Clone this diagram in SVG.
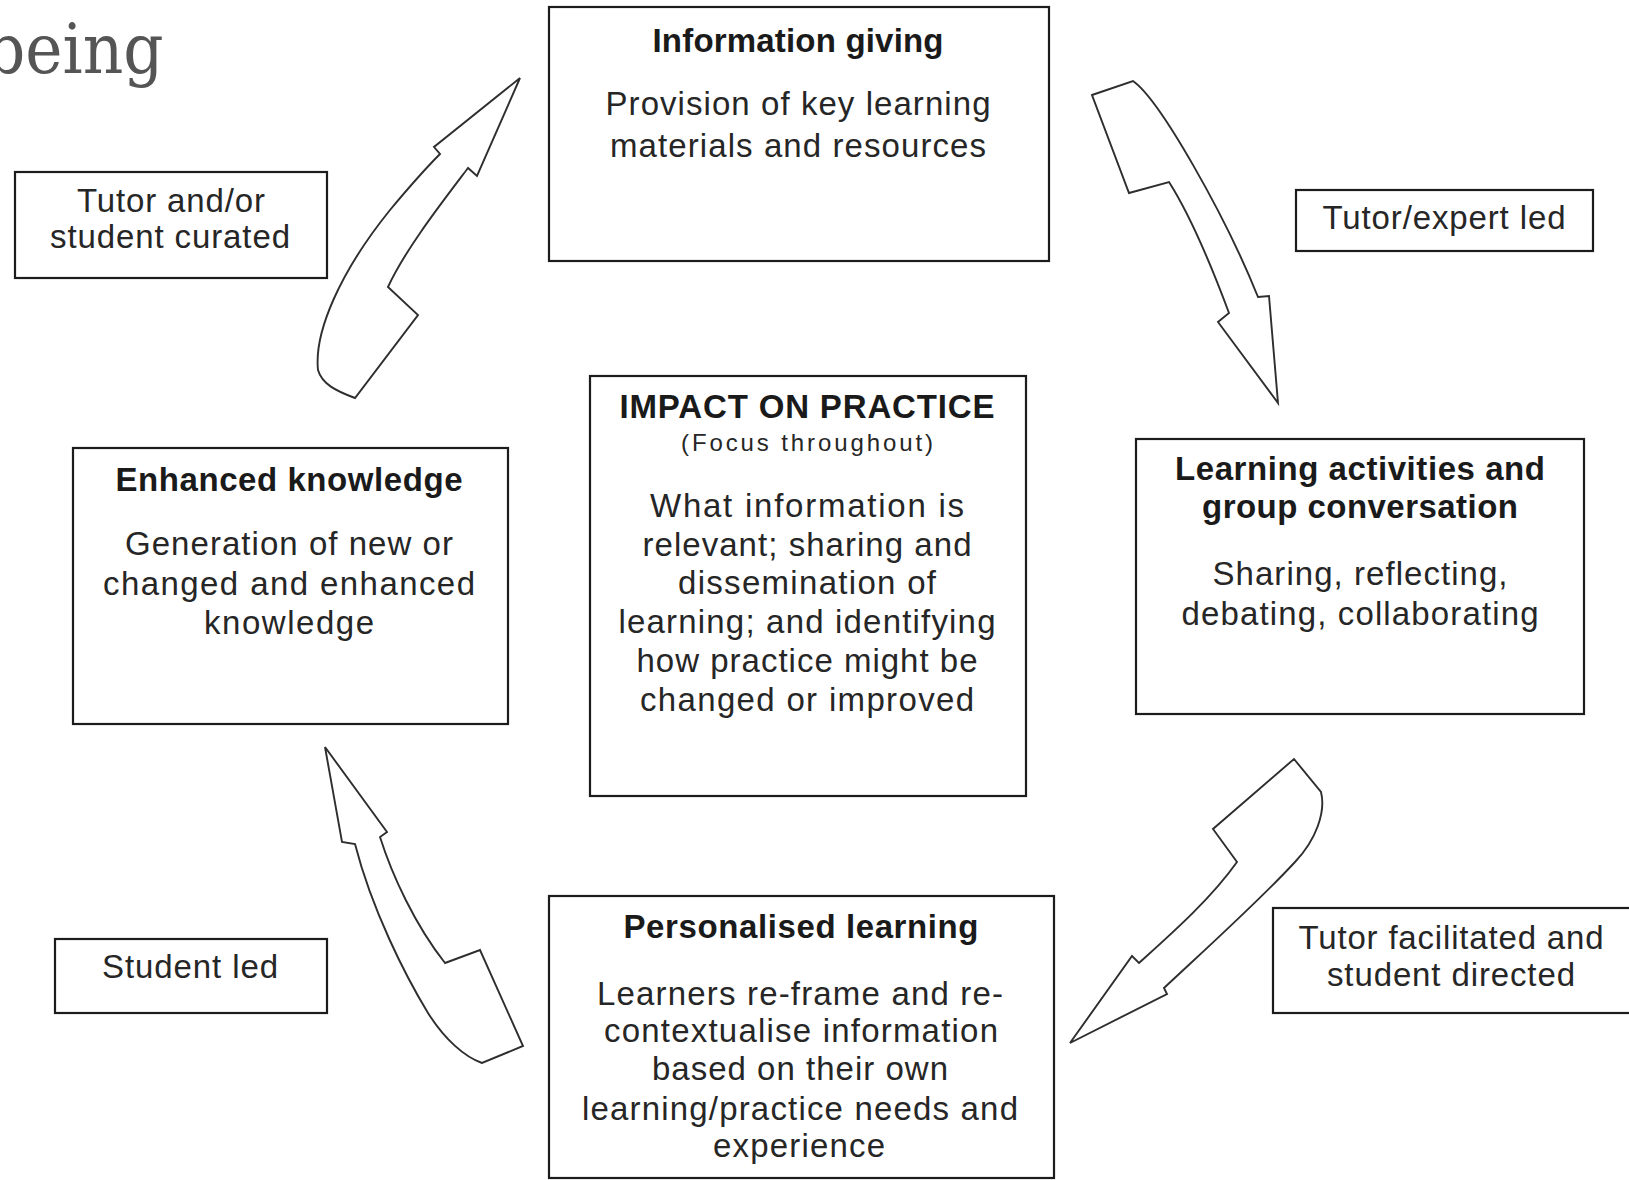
<svg xmlns="http://www.w3.org/2000/svg" width="1629" height="1180" viewBox="0 0 1629 1180">
  <style>
    .box { fill: #ffffff; stroke: #1c1c1c; stroke-width: 2.2; }
    .t { font-family: "Liberation Sans", Arial, sans-serif; font-size: 33px; fill: #262626; text-anchor: middle; }
    .h { font-family: "Liberation Sans", Arial, sans-serif; font-size: 33px; font-weight: bold; fill: #1a1a1a; text-anchor: middle; }
    .s { font-family: "Liberation Sans", Arial, sans-serif; font-size: 24px; fill: #262626; text-anchor: middle; }
    .arrow { fill: #ffffff; stroke: #2e2e2e; stroke-width: 1.9; stroke-linejoin: miter; }
    .title { font-family: "DejaVu Serif", "Liberation Serif", serif; font-stretch: condensed; font-size: 70px; fill: #555555; }
  </style>

  <rect x="0" y="0" width="1629" height="1180" fill="#ffffff"/>

  <!-- heading fragment at the top left -->
  <text class="title" x="-15" y="73">being</text>

  <!-- block arrows linking the four stages -->
  <g id="connectors">
    <!-- Enhanced knowledge -> Information giving -->
    <path class="arrow" d="M520,78 L477,176 L468,168 C440,205 405,250 388,287 L418,315 L355,398 C336,391 322,384 318,370 C314,332 340,272 390,210 C410,186 430,164 440,154 L434,147 Z"/>
    <!-- Information giving -> Learning activities -->
    <path class="arrow" d="M1092,95 L1133,81 C1160,100 1225,215 1258,297 L1269,296 L1278,403 L1218,322 L1229,313 C1210,262 1190,215 1169,182 L1129,193 Z"/>
    <!-- Learning activities -> Personalised learning -->
    <path class="arrow" d="M1294,759 L1321,792 C1326,812 1316,840 1295,862 C1260,900 1210,945 1164,988 L1167,994 L1070,1043 L1132,956 L1139,963 C1170,935 1210,900 1237,862 L1213,829 Z"/>
    <!-- Personalised learning -> Enhanced knowledge -->
    <path class="arrow" d="M325,747 L387,832 L380,837 C392,875 415,925 445,963 L480,950 L523,1046 L482,1063 C465,1057 445,1040 428,1013 C405,975 372,910 355,844 L342,842 Z"/>
  </g>

  <g id="node-information-giving">
    <rect class="box" x="549" y="7" width="500" height="254"/>
    <text class="h" x="798" y="52" textLength="291">Information giving</text>
    <text class="t" x="798" y="115" textLength="385">Provision of key learning</text>
    <text class="t" x="798" y="157" textLength="376">materials and resources</text>
  </g>

  <g id="label-tutor-curated">
    <rect class="box" x="15" y="172" width="312" height="106"/>
    <text class="t" x="171" y="212" textLength="188">Tutor and/or</text>
    <text class="t" x="170" y="248" textLength="240">student curated</text>
  </g>

  <g id="label-tutor-expert">
    <rect class="box" x="1296" y="190" width="297" height="61"/>
    <text class="t" x="1444" y="229" textLength="243">Tutor/expert led</text>
  </g>

  <g id="node-impact">
    <rect class="box" x="590" y="376" width="436" height="420"/>
    <text class="h" x="807" y="418" textLength="375">IMPACT ON PRACTICE</text>
    <text class="s" x="807" y="451" textLength="252">(Focus throughout)</text>
    <text class="t" x="807" y="517" textLength="314">What information is</text>
    <text class="t" x="807" y="556" textLength="329">relevant; sharing and</text>
    <text class="t" x="807" y="594" textLength="258">dissemination of</text>
    <text class="t" x="807" y="633" textLength="377">learning; and identifying</text>
    <text class="t" x="807" y="672" textLength="341">how practice might be</text>
    <text class="t" x="807" y="711" textLength="334">changed or improved</text>
  </g>

  <g id="node-enhanced-knowledge">
    <rect class="box" x="73" y="448" width="435" height="276"/>
    <text class="h" x="289" y="491" textLength="347">Enhanced knowledge</text>
    <text class="t" x="289" y="555" textLength="328">Generation of new or</text>
    <text class="t" x="289" y="595" textLength="372">changed and enhanced</text>
    <text class="t" x="289" y="634" textLength="170">knowledge</text>
  </g>

  <g id="node-learning-activities">
    <rect class="box" x="1136" y="439" width="448" height="275"/>
    <text class="h" x="1360" y="480" textLength="370">Learning activities and</text>
    <text class="h" x="1360" y="518" textLength="316">group conversation</text>
    <text class="t" x="1360" y="585" textLength="295">Sharing, reflecting,</text>
    <text class="t" x="1360" y="625" textLength="357">debating, collaborating</text>
  </g>

  <g id="label-student-led">
    <rect class="box" x="55" y="939" width="272" height="74"/>
    <text class="t" x="190" y="978" textLength="176">Student led</text>
  </g>

  <g id="node-personalised-learning">
    <rect class="box" x="549" y="896" width="505" height="282"/>
    <text class="h" x="801" y="938" textLength="355">Personalised learning</text>
    <text class="t" x="800" y="1005" textLength="406">Learners re-frame and re-</text>
    <text class="t" x="801" y="1042" textLength="394">contextualise information</text>
    <text class="t" x="800" y="1080" textLength="296">based on their own</text>
    <text class="t" x="800" y="1120" textLength="436">learning/practice needs and</text>
    <text class="t" x="799" y="1157" textLength="172">experience</text>
  </g>

  <g id="label-tutor-facilitated">
    <rect class="box" x="1273" y="908" width="380" height="105"/>
    <text class="t" x="1451" y="949" textLength="305">Tutor facilitated and</text>
    <text class="t" x="1451" y="986" textLength="248">student directed</text>
  </g>
</svg>
